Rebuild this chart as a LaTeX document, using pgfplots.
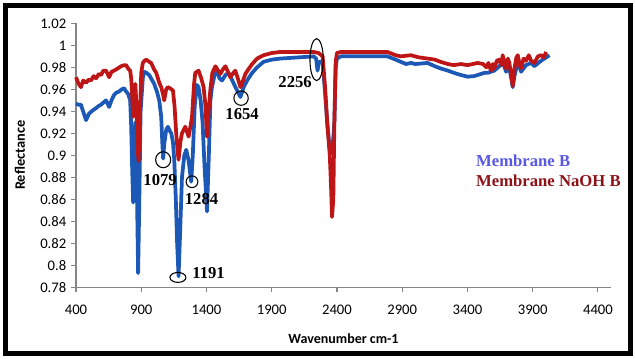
\documentclass[border=0pt]{standalone}
\usepackage{fontspec}
\setmainfont{Carlito}
\newfontfamily\tnr{Liberation Serif}
\usepackage{pgfplots}
\pgfplotsset{compat=1.18}
\definecolor{bline}{RGB}{28,88,182}
\definecolor{rline}{RGB}{190,22,22}
\definecolor{btext}{RGB}{88,88,228}
\definecolor{rtext}{RGB}{140,18,24}
\definecolor{axgray}{RGB}{134,134,134}
\begin{document}
\begin{tikzpicture}
\useasboundingbox (0,0) rectangle (476.25pt,268.5pt);
\draw[line width=3.75pt] (4.1pt,3.5pt) rectangle (472.9pt,264.4pt);
\begin{axis}[
  at={(57pt,53pt)}, anchor=south west,
  scale only axis, width=401.25pt, height=198pt,
  xmin=400, xmax=4500, ymin=0.78, ymax=1.02,
  axis lines=left, axis line style={-, draw=axgray, line width=0.8pt},
  tick style={draw=axgray, line width=0.8pt},
  tick align=outside, major tick length=3.75pt,
  xtick={400,900,1400,1900,2400,2900,3400,3900,4400},
  xticklabels={400,900,1400,1900,2400,2900,3400,3900,4400},
  ytick={0.78,0.8,0.82,0.84,0.86,0.88,0.9,0.92,0.94,0.96,0.98,1,1.02},
  yticklabels={0.78,0.8,0.82,0.84,0.86,0.88,0.9,0.92,0.94,0.96,0.98,1,1.02},
  ticklabel style={font=\fontsize{11}{13}\selectfont},
  xticklabel style={yshift=-6pt},
  xlabel={\bfseries Wavenumber cm-1},
  ylabel={\bfseries Reflectance},
  xlabel style={font=\fontsize{10.5}{12}\selectfont, at={(axis description cs:0.5,-0.1944)}, anchor=center},
  ylabel style={font=\fontsize{10.8}{12}\selectfont, at={(axis description cs:-0.1047,0.5)}, anchor=center},
  clip=false,
]
% Membrane B (blue)
\addplot[bline, line width=2.8pt, line join=round] coordinates {
(400,0.947)(420,0.946)(438,0.946)(460,0.938)(477,0.932)(500,0.938)(530,0.941)(554,0.943)(575,0.945)(592,0.946)(610,0.948)(630,0.950)(654,0.944)(672,0.950)(692,0.955)(710,0.957)(730,0.958)(750,0.960)(769,0.961)(784,0.958)(799,0.956)(815,0.950)(823,0.926)(830,0.890)(838,0.857)(846,0.900)(855,0.930)(861,0.925)(868,0.860)(876,0.793)(884,0.850)(895,0.940)(912,0.970)(922,0.976)(940,0.975)(961,0.973)(980,0.969)(999,0.965)(1020,0.958)(1038,0.950)(1053,0.935)(1062,0.910)(1068,0.897)(1076,0.910)(1091,0.923)(1104,0.926)(1120,0.922)(1130,0.920)(1143,0.912)(1153,0.896)(1165,0.860)(1175,0.820)(1186,0.790)(1198,0.830)(1212,0.880)(1230,0.900)(1245,0.905)(1263,0.895)(1283,0.876)(1295,0.900)(1310,0.945)(1327,0.964)(1339,0.962)(1355,0.950)(1370,0.930)(1385,0.890)(1404,0.849)(1418,0.900)(1430,0.950)(1442,0.962)(1460,0.972)(1481,0.977)(1500,0.970)(1519,0.968)(1545,0.973)(1568,0.975)(1590,0.970)(1606,0.966)(1630,0.960)(1660,0.953)(1685,0.962)(1711,0.968)(1750,0.975)(1788,0.980)(1837,0.985)(1900,0.987)(1967,0.988)(2100,0.989)(2221,0.990)(2240,0.988)(2251,0.977)(2262,0.985)(2290,0.985)(2310,0.955)(2325,0.930)(2345,0.905)(2355,0.902)(2365,0.905)(2380,0.930)(2390,0.980)(2400,0.988)(2430,0.990)(2600,0.990)(2786,0.990)(2850,0.987)(2889,0.985)(2930,0.983)(2966,0.984)(3000,0.983)(3094,0.984)(3150,0.981)(3194,0.979)(3250,0.977)(3296,0.975)(3350,0.973)(3401,0.9715)(3450,0.972)(3478,0.973)(3530,0.975)(3555,0.975)(3606,0.977)(3644,0.981)(3670,0.985)(3696,0.976)(3721,0.980)(3747,0.962)(3760,0.972)(3786,0.985)(3811,0.976)(3849,0.982)(3888,0.984)(3913,0.981)(3964,0.986)(4003,0.989)(4028,0.991)
};
% Membrane NaOH B (red)
\addplot[rline, line width=2.8pt, line join=round] coordinates {
(400,0.971)(420,0.965)(438,0.962)(455,0.968)(477,0.966)(500,0.969)(515,0.968)(535,0.972)(554,0.970)(575,0.974)(592,0.973)(610,0.977)(630,0.977)(654,0.971)(672,0.976)(692,0.977)(720,0.979)(746,0.981)(769,0.982)(784,0.982)(799,0.979)(815,0.977)(823,0.970)(830,0.955)(838,0.935)(846,0.958)(855,0.965)(861,0.950)(868,0.925)(876,0.900)(880,0.895)(888,0.930)(900,0.975)(912,0.984)(925,0.986)(938,0.987)(961,0.985)(976,0.984)(999,0.978)(1015,0.975)(1038,0.966)(1053,0.962)(1068,0.955)(1076,0.950)(1091,0.960)(1104,0.962)(1120,0.961)(1143,0.959)(1155,0.945)(1168,0.920)(1178,0.905)(1186,0.896)(1200,0.912)(1212,0.920)(1237,0.926)(1255,0.920)(1263,0.917)(1275,0.925)(1289,0.935)(1305,0.965)(1314,0.975)(1339,0.977)(1360,0.970)(1378,0.962)(1392,0.945)(1404,0.917)(1416,0.940)(1429,0.959)(1445,0.975)(1468,0.981)(1490,0.977)(1506,0.974)(1525,0.978)(1545,0.981)(1568,0.975)(1583,0.971)(1606,0.975)(1621,0.977)(1640,0.970)(1660,0.962)(1680,0.968)(1698,0.974)(1720,0.978)(1750,0.983)(1788,0.988)(1837,0.991)(1900,0.993)(1967,0.994)(2100,0.994)(2221,0.994)(2260,0.993)(2290,0.990)(2310,0.960)(2325,0.930)(2345,0.900)(2355,0.870)(2362,0.844)(2372,0.860)(2380,0.930)(2390,0.985)(2400,0.993)(2430,0.994)(2600,0.994)(2786,0.994)(2850,0.991)(2889,0.990)(2966,0.991)(3030,0.989)(3094,0.988)(3150,0.987)(3194,0.985)(3250,0.983)(3296,0.982)(3350,0.983)(3401,0.982)(3478,0.984)(3520,0.983)(3545,0.980)(3560,0.984)(3580,0.977)(3595,0.983)(3606,0.979)(3625,0.986)(3644,0.987)(3660,0.982)(3670,0.991)(3685,0.983)(3696,0.979)(3710,0.988)(3721,0.984)(3735,0.973)(3747,0.963)(3760,0.979)(3775,0.989)(3786,0.991)(3800,0.982)(3811,0.979)(3830,0.988)(3849,0.986)(3870,0.991)(3888,0.986)(3913,0.984)(3940,0.990)(3964,0.991)(3985,0.989)(4003,0.994)
};
% annotation ellipses
\addplot[only marks, mark=o, mark size=6pt, mark options={black, line width=0.8pt, xscale=0.94}] coordinates {(1068,0.896)};
\addplot[only marks, mark=o, mark size=4.4pt, mark options={black, line width=0.8pt}] coordinates {(1289,0.876)};
\addplot[only marks, mark=o, mark size=6pt, mark options={black, line width=0.8pt, yscale=0.62}] coordinates {(1181,0.789)};
\addplot[only marks, mark=o, mark size=5.4pt, mark options={black, line width=0.8pt}] coordinates {(1665,0.952)};
\addplot[only marks, mark=o, mark size=5pt, mark options={black, line width=0.8pt, yscale=3.15}] coordinates {(2244,0.987)};
% annotation labels
\begin{scope}[every node/.style={font=\tnr\bfseries\fontsize{12.5}{14}\selectfont, inner sep=0pt}]
\node at (axis cs:1045,0.8773) {1079};
\node at (axis cs:1362,0.8605) {1284};
\node at (axis cs:1416,0.7933) {1191};
\node at (axis cs:1673,0.9371) {1654};
\node at (axis cs:2079,0.9665) {2256};
\node[anchor=base west, text=btext] at (axis cs:3465,0.8896) {Membrane B};
\node[anchor=base west, text=rtext] at (axis cs:3465,0.8715) {Membrane NaOH B};
\end{scope}
\end{axis}
\end{tikzpicture}
\end{document}
